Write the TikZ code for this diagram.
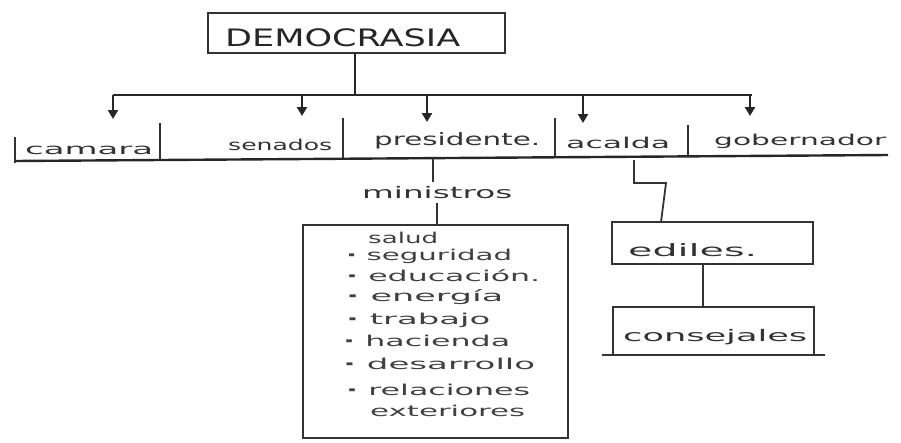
\documentclass[tikz,border=0pt]{standalone}
\usepackage{fontspec}
\setmainfont{DejaVu Sans}
\usetikzlibrary{arrows.meta}
\newcommand\fitw[2]{\resizebox{#1pt}{\height}{#2}}
\newcommand\bul{{\bfseries ·}}
\begin{document}
\begin{tikzpicture}[x=1pt,y=-1pt,
  ln/.style={draw=black!85,line width=2.4pt},
  thin/.style={draw=black!80,line width=1.8pt},
  arr/.style={ln,-{Triangle[width=10pt,length=9pt]}},
  lbl/.style={font=\fontsize{15}{15}\selectfont,text=black!80,inner sep=0pt},
  item/.style={font=\fontsize{15}{15}\selectfont,text=black!75,inner sep=0pt,anchor=west},
  box/.style={draw=black!80,line width=2.2pt}]
\useasboundingbox (0,0) rectangle (901,442);
% root
\draw[box] (208,13) rectangle (505,53);
\node[font=\fontsize{24}{24}\selectfont,text=black!85,inner sep=0pt,anchor=west] (roott) at (225,38) {\fitw{235}{DEMOCRASIA}};
\coordinate (rs) at (355,53);
\coordinate (j) at (355,95);
\coordinate (jl) at (113,95);
\coordinate (jr) at (752,95);
\draw[ln] (rs) -- (j);
\draw[ln] (jl) -- (jr);
% children labels
\node[lbl,anchor=west] (cam) at (25,150) {\fitw{128}{camara}};
\node[lbl,anchor=west] (sen) at (228,145) {\fitw{104}{senados}};
\node[lbl,anchor=west,font=\fontsize{17}{17}\selectfont] (pre) at (374,141) {\fitw{166}{presidente.}};
\node[lbl,anchor=west] (alc) at (566,143) {\fitw{104}{acalda}};
\node[lbl,anchor=west] (gob) at (714,141) {\fitw{172}{gobernador}};
% arrows
\coordinate (a1) at (113,119);
\coordinate (b0) at (302,95);
\coordinate (b1) at (302,116);
\coordinate (c0) at (427,95);
\coordinate (c1) at (427,122);
\coordinate (d0) at (583,95);
\coordinate (d1) at (583,123);
\coordinate (e0) at (750,95);
\coordinate (e1a) at (750,116);
\draw[arr] (jl) -- (a1);
\draw[arr] (b0) -- (b1);
\draw[arr] (c0) -- (c1);
\draw[arr] (d0) -- (d1);
\draw[arr] (e0) -- (e1a);
% base line and separators
\draw[ln] (15,161) -- (888,155);
\draw[thin] (15,137) -- (15,163);
\draw[thin] (160,123) -- (160,160);
\draw[thin] (343,118) -- (343,158);
\draw[thin] (555,118) -- (555,157);
\draw[thin] (688,125) -- (688,156);
% ministros
\node[lbl,anchor=west,font=\fontsize{16}{16}\selectfont] (min) at (362,193) {\fitw{150}{ministros}};
\coordinate (p1) at (433,158);
\coordinate (p2) at (433,182);
\draw[thin] (p1) -- (p2);
\draw[box] (303,225) rectangle (568,438);
\coordinate (m1) at (437,203);
\coordinate (m2) at (437,225);
\draw[thin] (m1) -- (m2);
\node[item] (i1) at (368,238) {\fitw{70}{salud}};
\node[item] (i2) at (346,256) {\fitw{166}{\bul\ seguridad}};
\node[item] (i3) at (346,276) {\fitw{194}{\bul\ educación.}};
\node[item] (i4) at (346,297) {\fitw{157}{\bul\ energía}};
\node[item] (i5) at (346,320) {\fitw{144}{\bul\ trabajo}};
\node[item] (i6) at (343,341) {\fitw{167}{\bul\ hacienda}};
\node[item] (i7) at (343,364) {\fitw{192}{\bul\ desarrollo}};
\node[item] (i8) at (346,390) {\fitw{184}{\bul\ relaciones}};
\node[item] (i9) at (370,411) {\fitw{155}{exteriores}};
% ediles / consejales
\draw[box] (612,222) rectangle (813,264);
\node[lbl,anchor=west,font=\fontsize{17}{17}\selectfont] (edi) at (628,250) {\fitw{129}{ediles.}};
\draw[box] (613,307) rectangle (814,355);
\draw[thin] (602,355) -- (825,355);
\node[lbl,anchor=west,font=\fontsize{16}{16}\selectfont] (con) at (623,337) {\fitw{184}{consejales}};
\coordinate (z0) at (634,160);
\coordinate (z1) at (634,183);
\coordinate (z2) at (666,183);
\coordinate (z3) at (661,222);
\draw[thin] (z0) -- (z1) -- (z2) -- (z3);
\coordinate (e1) at (703,264);
\coordinate (e2) at (703,307);
\draw[thin] (e1) -- (e2);
\end{tikzpicture}
\end{document}
